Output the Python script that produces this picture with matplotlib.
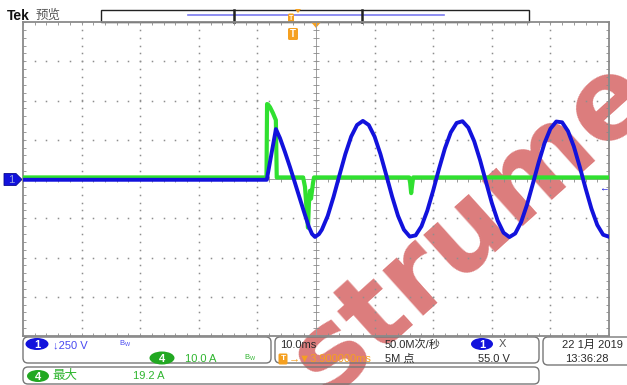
import numpy as np
import matplotlib
matplotlib.use("Agg")
import matplotlib.pyplot as plt
from matplotlib.patches import FancyBboxPatch, Ellipse, Polygon, Rectangle

plt.rcParams['font.family'] = ['Liberation Sans', 'Noto Sans CJK SC', 'DejaVu Sans']

# channel 1 (voltage, 250 V/div) - time in ms, value in V
ch1_t = [-50, -8.4, -6.84, -6.15, -5.30, -4.44, -3.59, -2.74, -1.88, -1.20, -0.68, -0.17, 0.5] + list(range(1, 51))
ch1_v = [-5, -5, 318, 261, 172, 76, -25, -127, -229, -306, -350, -369, -351,
         -323, -235, -113, 24, 158, 270, 344, 370, 344, 270, 158, 24, -113, -235, -323, -367,
         -359, -301, -201, -73, 66, 195, 297, 357, 368, 327, 240, 120, -17, -152, -265, -342,
         -370, -347, -275, -165, -31, 106, 229, 320, 366, 361, 305, 207, 79, -59, -189, -293,
         -355, -368]
ch1_scale = 250.0

# channel 4 (current, 10 A/div)
ch4_t = [-50, -8.45, -8.35, -8.2, -7.85, -7.35, -6.85, -6.7, -2.2, -1.88, -1.54, -1.37,
         -1.2, -1.03, -0.85, -0.68, -0.51, -0.34, 15.9, 16.07, 16.24, 16.41, 16.58, 50]
ch4_a = [0.4, 0.4, 19.1, 19.0, 18.3, 16.8, 15.0, 0.4, 0.4, -2.0, -9.0, -12.4,
         -6.0, -3.0, -5.0, -3.0, -1.0, 0.4, 0.4, -1.0, -3.6, -1.5, 0.4, 0.4]
ch4_scale = 10.0

W, H = 627, 385
fig = plt.figure(figsize=(W / 100, H / 100), dpi=100)

# overlay in pixel coords for the UI bits
ov = fig.add_axes([0, 0, 1, 1])
ov.set_xlim(0, W)
ov.set_ylim(H, 0)
ov.axis('off')

blue = '#1212dc'
green = '#30e030'
gtext = '#2fb52f'
orange = '#f5a020'
dark = '#2a2a2a'

# watermark
ov.text(472, 226, 'strume', fontsize=80, fontweight='bold', color='#dc7c7c',
        rotation=42, rotation_mode='anchor', ha='center', va='center', zorder=1,
        family='DejaVu Sans')

def rbox(x0, y0, x1, y1, ec='#777777', r=5):
    ov.add_patch(FancyBboxPatch((x0, y0), x1 - x0, y1 - y0,
                                boxstyle=f'round,pad=0,rounding_size={r}',
                                fc='none', ec=ec, lw=1.0, zorder=2))

def badge(x, y, w, h, fc, label, tc='white'):
    ov.add_patch(Ellipse((x, y), w, h, fc=fc, ec='none', zorder=3))
    ov.text(x, y + 0.5, label, color=tc, fontsize=8, ha='center', va='center', zorder=4,
            fontweight='bold')

def tmark(x, y, w, h, fs=6):
    ov.add_patch(FancyBboxPatch((x - w / 2, y - h / 2), w, h,
                                boxstyle='round,pad=0,rounding_size=1.5',
                                fc=orange, ec='none', zorder=3))
    ov.text(x, y, 'T', color='white', fontsize=fs, fontweight='bold',
            ha='center', va='center', zorder=4)

# header
ov.text(7, 16, 'Tek', fontsize=10, fontweight='bold', color='#111111', va='center', zorder=3)
ov.text(36, 16, '预览', fontsize=9, color='#555555', va='center', zorder=3)
ov.add_patch(Rectangle((101, 10), 428, 12, fc='white', ec='#222222', lw=1.0, zorder=2))
ov.plot([188, 444], [15, 15], color='#7c7cf0', lw=1.2, zorder=3)
ov.plot([234, 234], [10, 22], color='#222222', lw=1.8, zorder=3)
ov.plot([362, 362], [10, 22], color='#222222', lw=1.8, zorder=3)
tmark(291, 18, 6, 9, fs=5)
ov.add_patch(Polygon([[295, 9], [301, 9], [298, 13]], fc=orange, ec='none', zorder=3))
ov.add_patch(Polygon([[311, 22], [321, 22], [316, 28]], fc=orange, ec='none', zorder=5))
tmark(293, 34, 10, 12, fs=7)

# channel 1 ground marker on the left
ov.add_patch(Polygon([[4, 173.5], [16, 173.5], [22, 179.5], [16, 185.5], [4, 185.5]],
                     closed=True, fc=blue, ec='#0a0a90', lw=0.6, zorder=3))
ov.text(11, 180, '1', color='#9aa6e0', fontsize=8, ha='center', va='center', zorder=4)
ov.text(604, 188, '←', color=blue, fontsize=7, ha='center', va='center', zorder=4)

# bottom panels
rbox(23, 337, 271, 363)
rbox(275, 337, 539, 363)
rbox(543, 337, 640, 365)
rbox(23, 367, 539, 384)

badge(37, 344, 23, 12, blue, '1')
ov.text(53, 345, '↓250 V', color='#4848f0', fontsize=8, va='center', zorder=4)
ov.text(119, 344, r'$\mathregular{B_W}$', color='#4848f0', fontsize=5.5, va='center', zorder=4)
badge(162, 358, 25, 13, '#22a822', '4')
ov.text(185, 359, '10.0 A', color=gtext, fontsize=8, va='center', zorder=4)
ov.text(244, 358, r'$\mathregular{B_W}$', color=gtext, fontsize=5.5, va='center', zorder=4)

ov.text(280, 345, '10.0ms', color=dark, fontsize=8, va='center', zorder=4)
tmark(283, 359, 9, 11)
ov.text(289, 359, '→▼3.900000ms', color=orange, fontsize=8, va='center', zorder=4)
ov.text(385, 345, '50.0M次/秒', color=dark, fontsize=8, va='center', zorder=4)
ov.text(385, 359, '5M 点', color=dark, fontsize=8, va='center', zorder=4)
badge(482, 344, 22, 12, blue, '1')
ov.text(499, 344, 'X', color='#555555', fontsize=8, va='center', zorder=4)
ov.text(478, 359, '55.0 V', color=dark, fontsize=8, va='center', zorder=4)

ov.text(562, 345, '22 1月 2019', color=dark, fontsize=8, va='center', zorder=4)
ov.text(565, 359, '13:36:28', color=dark, fontsize=8, va='center', zorder=4)

badge(38, 376, 22, 12, '#22a822', '4')
ov.text(52, 376, '最大', color=gtext, fontsize=9, va='center', zorder=4)
ov.text(133, 376, '19.2 A', color=gtext, fontsize=8, va='center', zorder=4)

# scope graticule
ax = fig.add_axes([23 / W, 1 - 336 / H, 586 / W, 314 / H])
ax.set_facecolor('none')
ax.set_xlim(-50, 50)
ax.set_ylim(-4, 4)
for s in ax.spines.values():
    s.set_color('#8a8a8a')
    s.set_linewidth(1.3)
ax.set_xticks(np.arange(-50, 51, 10))
ax.set_xticks(np.arange(-50, 51, 2), minor=True)
ax.set_yticks(np.arange(-4, 5, 1))
ax.set_yticks(np.arange(-4, 4.01, 0.2), minor=True)
ax.tick_params(which='both', direction='in', length=2.5, width=0.6, color='#8a8a8a',
               top=True, right=True, labelbottom=False, labelleft=False)

gx = np.arange(-50, 51, 2)
gy = np.arange(-4, 4.01, 0.2)
for xm in range(-40, 41, 10):
    if xm != 0:
        ax.plot(np.full_like(gy, xm), gy, ls='none', marker='s', ms=1.1, color='#8e8e8e', mew=0)
for ym in range(-3, 4):
    if ym != 0:
        ax.plot(gx, np.full_like(gx, ym, dtype=float), ls='none', marker='s', ms=1.1,
                color='#8e8e8e', mew=0)
ax.axvline(0, color='#a0a0a0', lw=0.7)
ax.axhline(0, color='#a0a0a0', lw=0.7)
ax.plot(np.zeros_like(gy), gy, ls='none', marker='_', ms=4, mew=0.6, color='#8a8a8a')
ax.plot(gx, np.zeros_like(gx, dtype=float), ls='none', marker='|', ms=4, mew=0.6, color='#8a8a8a')

ax.plot(ch4_t, np.array(ch4_a) / ch4_scale, color=green, lw=3.0, solid_joinstyle='round', zorder=3)
ax.plot(ch1_t, np.array(ch1_v) / ch1_scale, color=blue, lw=2.8, solid_joinstyle='round', zorder=4)

fig.savefig('out.png', dpi=100, facecolor='white')
